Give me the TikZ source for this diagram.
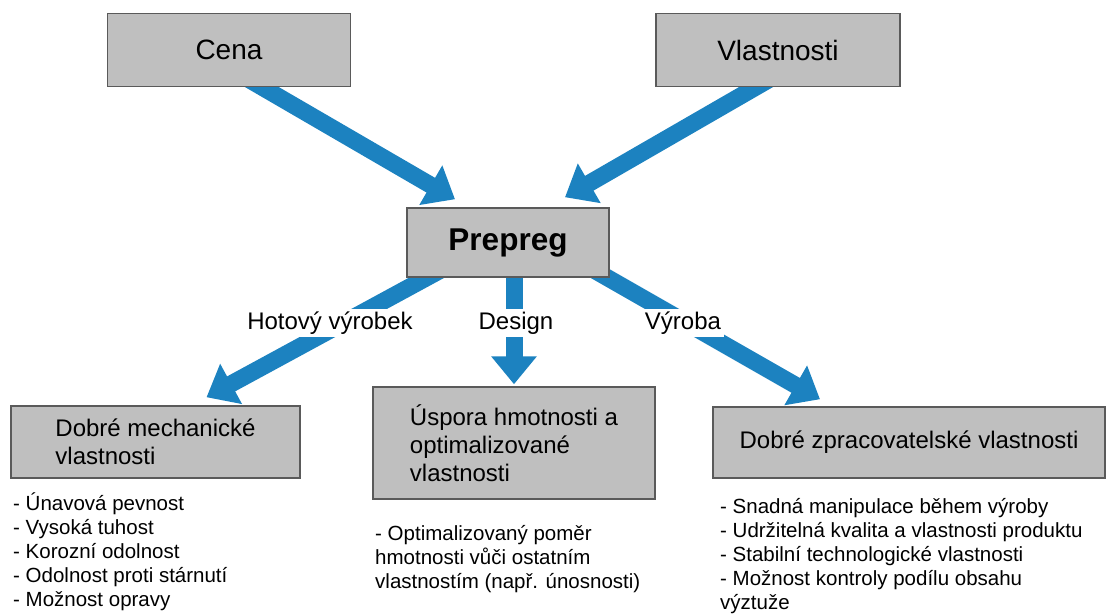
\documentclass[tikz,border=0pt]{standalone}
\usepackage{fontspec}
\setmainfont{Liberation Sans}
\usetikzlibrary{positioning}
\usetikzlibrary{arrows.meta}
\definecolor{arrowblue}{RGB}{28,130,192}
\definecolor{boxgray}{RGB}{191,191,191}
\definecolor{boxline}{RGB}{90,90,90}
\pgfdeclarelayer{background}
\pgfsetlayers{background,main}
\tikzset{
  box/.style={draw=boxline, line width=1.5pt, fill=boxgray, inner sep=0pt},
  bigarrow/.style={draw=arrowblue, line width=17pt, -{Triangle[width=44pt,length=28pt]}},
  arrowlabel/.style={fill=white, inner sep=3pt, font=\fontsize{24}{28}\selectfont},
  listtext/.style={anchor=north west, align=left, inner sep=0pt, font=\fontsize{20.5}{24}\selectfont}
}

\begin{document}
\begin{tikzpicture}[x=1pt,y=-1pt]
\useasboundingbox (0,0) rectangle (1109,614);
\node[box,minimum width=243pt,minimum height=73pt,font=\fontsize{28}{34}\selectfont] (cena) at (229,50) {Cena};
\node[box,minimum width=244pt,minimum height=73pt,font=\fontsize{28}{34}\selectfont] (vlast) at (778,50) {Vlastnosti};
\node[box,minimum width=202pt,minimum height=69pt,font=\fontsize{31.5}{38}\selectfont\bfseries] (prepreg) at (508,242.5) {Prepreg};
\node[box,minimum width=289pt,minimum height=72pt,inner xsep=39pt,align=left,font=\fontsize{24}{28}\selectfont] (mech) at (155.5,442) {Dobré mechanické\\vlastnosti};
\node[box,minimum width=282pt,minimum height=112pt,inner xsep=37pt,align=left,font=\fontsize{24}{28}\selectfont] (uspora) at (514,443) {Úspora hmotnosti a\\optimalizované\\vlastnosti};
\node[box,minimum width=392pt,minimum height=71pt,font=\fontsize{24}{28}\selectfont] (zprac) at (909,442.5) {Dobré zpracovatelské vlastnosti};

\begin{pgfonlayer}{background}
\draw[bigarrow] ([xshift=16pt,yshift=10pt]cena.south) -- ([xshift=-53pt,yshift=8pt]prepreg.north);
\draw[bigarrow] ([xshift=-5pt,yshift=10pt]vlast.south) -- ([xshift=57pt,yshift=10pt]prepreg.north);
\draw[bigarrow] ([xshift=-63pt,yshift=10pt]prepreg.south) -- ([xshift=51pt,yshift=8pt]mech.north);
\draw[bigarrow] ([xshift=6pt,yshift=10pt]prepreg.south) -- ([yshift=2pt]uspora.north);
\draw[bigarrow] ([xshift=82pt,yshift=10pt]prepreg.south) -- ([xshift=-89pt,yshift=7pt]zprac.north);
\end{pgfonlayer}

\node[arrowlabel] (hotovy) at (330,323) {Hotový výrobek};
\node[arrowlabel] (design) at (516,323) {Design};
\node[arrowlabel] (vyroba) at (683,323) {Výroba};

\node[listtext] (mechlist) at (13,493) {- Únavová pevnost\\- Vysoká tuhost\\- Korozní odolnost\\- Odolnost proti stárnutí\\- Možnost opravy};
\node[listtext] (usporalist) at (375,525) {- Optimalizovaný poměr\\hmotnosti vůči ostatním\\vlastnostím (např. únosnosti)};
\node[listtext] (zpraclist) at (720,498) {- Snadná manipulace během výroby\\- Udržitelná kvalita a vlastnosti produktu\\- Stabilní technologické vlastnosti\\- Možnost kontroly podílu obsahu\\výztuže};
\end{tikzpicture}
\end{document}
